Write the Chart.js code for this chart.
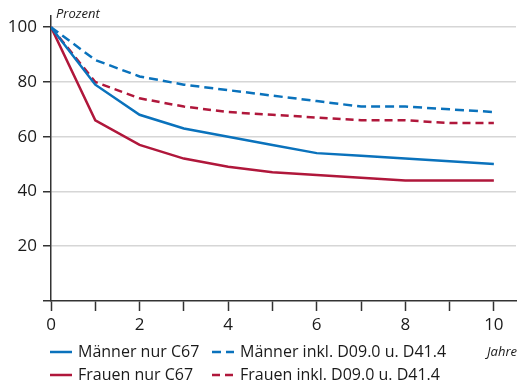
<!DOCTYPE html>
<html>
<head>
<meta charset="utf-8">
<script src="https://cdn.jsdelivr.net/npm/chart.js@4"></script>
<style>
  html, body { margin: 0; padding: 0; background: #fff; }
  #wrap { width: 523px; height: 383px; position: relative; }
</style>
</head>
<body>
<div id="wrap"><canvas id="chart" width="523" height="383"></canvas></div>
<script>
// Jahre nach Diagnose
const years = [0, 1, 2, 3, 4, 5, 6, 7, 8, 9, 10];
const maennerNur = [100, 79, 68, 63, 60, 57, 54, 53, 52, 51, 50];
const maennerInkl = [100, 88, 82, 79, 77, 75, 73, 71, 71, 70, 69];
const frauenNur = [100, 66, 57, 52, 49, 47, 46, 45, 44, 44, 44];
const frauenInkl = [100, 80, 74, 71, 69, 68, 67, 66, 66, 65, 65];
const yTicks = [0, 20, 40, 60, 80, 100];
const xTicks = [0, 1, 2, 3, 4, 5, 6, 7, 8, 9, 10];

const BLUE = '#0a72bc';
const RED = '#b0173b';
const FONT = '"Open Sans", sans-serif';

function pts(arr) {
    return arr.map((v, i) => ({ x: years[i], y: v }));
}

// Legende (2 Spalten) und Achsenbeschriftungen
const extras = {
    id: 'extras',
    afterDraw(chart) {
        const ctx = chart.ctx;
        const area = chart.chartArea;
        ctx.save();
        ctx.fillStyle = '#1a1a1a';
        ctx.textBaseline = 'middle';
        ctx.font = 'italic 13px ' + FONT;
        ctx.textAlign = 'left';
        ctx.fillText('Prozent', area.left + 5, 14);
        ctx.textAlign = 'right';
        ctx.fillText('Jahre', 517, 352);

        const cols = [50, 212];
        const rows = [352, 375];
        ctx.font = '16px ' + FONT;
        ctx.textAlign = 'left';
        chart.data.datasets.forEach((ds, k) => {
            const x = cols[k % 2];
            const y = rows[Math.floor(k / 2)];
            ctx.beginPath();
            ctx.strokeStyle = ds.borderColor;
            ctx.lineWidth = 2.5;
            ctx.setLineDash(ds.borderDash || []);
            ctx.moveTo(x, y);
            ctx.lineTo(x + 22, y);
            ctx.stroke();
            ctx.setLineDash([]);
            ctx.fillStyle = '#1a1a1a';
            ctx.fillText(ds.label, x + 28, y);
        });
        ctx.restore();
    }
};

new Chart(document.getElementById('chart'), {
    type: 'line',
    data: {
        datasets: [
            { label: 'Männer nur C67', data: pts(maennerNur), borderColor: BLUE, borderWidth: 2.5, pointRadius: 0 },
            { label: 'Männer inkl. D09.0 u. D41.4', data: pts(maennerInkl), borderColor: BLUE, borderWidth: 2.5, borderDash: [9, 5], pointRadius: 0 },
            { label: 'Frauen nur C67', data: pts(frauenNur), borderColor: RED, borderWidth: 2.5, pointRadius: 0 },
            { label: 'Frauen inkl. D09.0 u. D41.4', data: pts(frauenInkl), borderColor: RED, borderWidth: 2.5, borderDash: [8, 5], pointRadius: 0 }
        ]
    },
    options: {
        responsive: false,
        animation: false,
        layout: { padding: { left: 0, right: 7, top: 15, bottom: 47 } },
        plugins: {
            legend: { display: false },
            tooltip: { enabled: false }
        },
        scales: {
            x: {
                type: 'linear',
                min: 0,
                max: 10.5,
                afterBuildTicks: function(scale) {
                    scale.ticks = xTicks.map(v => ({ value: v }));
                },
                afterFit: function(scale) { scale.height = 35; },
                grid: { drawOnChartArea: false, tickLength: 10, tickColor: '#333', tickWidth: 1.5 },
                border: { color: '#333', width: 1.5 },
                ticks: {
                    padding: 4,
                    color: '#1a1a1a',
                    font: { family: FONT, size: 17 },
                    maxRotation: 0,
                    callback: function(value) { return value % 2 === 0 ? String(value) : ''; }
                }
            },
            y: {
                min: 0,
                max: 104,
                afterBuildTicks: function(scale) {
                    scale.ticks = yTicks.map(v => ({ value: v }));
                },
                afterFit: function(scale) { scale.width = 51; },
                grid: {
                    color: function(c) { return c.tick && c.tick.value === 0 ? 'rgba(0,0,0,0)' : '#d6d6d6'; },
                    lineWidth: 1.5,
                    tickLength: 8,
                    tickColor: '#333',
                    tickWidth: 1.5
                },
                border: { color: '#333', width: 1.5 },
                ticks: {
                    padding: 6,
                    color: '#1a1a1a',
                    font: { family: FONT, size: 17 },
                    callback: function(value) { return value === 0 ? '' : String(value); }
                }
            }
        }
    },
    plugins: [extras]
});
</script>
</body>
</html>
